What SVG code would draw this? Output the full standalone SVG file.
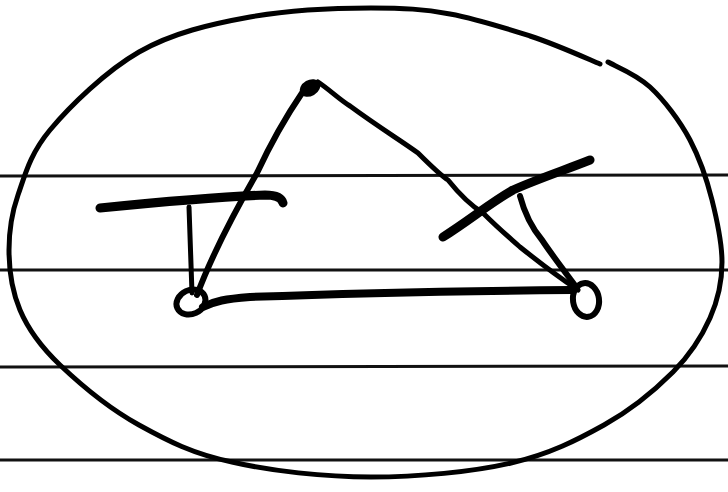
<svg xmlns="http://www.w3.org/2000/svg" width="728" height="492" viewBox="0 0 728 492">
<style>
.rule{stroke:#111;stroke-width:3;fill:none}
.ink{stroke:#000;fill:none;stroke-linecap:round;stroke-linejoin:round}
</style>
<rect width="728" height="492" fill="#fff"/>
<g id="rules">
<path class="rule" d="M0,176 L728,175"/>
<path class="rule" d="M0,270 L728,270"/>
<path class="rule" d="M0,367 L728,366"/>
<path class="rule" d="M0,460 L728,460"/>
</g>
<g id="ellipse">
<path class="ink" stroke-width="5" d="M608,62 C615,66 636,74 650,87 C664,100 680,121 690,140 C700,159 707,180 712,200 C717,220 722,242 722,262 C722,282 718,300 710,318 C702,336 691,354 673,372 C655,390 631,410 604,425 C577,440 550,454 511,463 C472,472 418,477 371,477 C324,477 271,471 232,462 C193,454 168,441 139,425 C110,409 80,384 60,365 C40,346 28,329 20,310 C12,291 9,269 9,250 C9,231 11,215 18,195 C25,175 30,154 50,130 C70,106 106,71 139,52 C172,33 211,24 250,17 C289,10 338,8 371,8 C404,8 423,9 450,14 C477,19 505,28 530,36 C555,44 588,59 600,64"/>
</g>
<g id="triangle">
<path class="ink" stroke-width="6" d="M197,295 C210,260 230,220 257,173 C270,145 285,118 302,93"/>
<ellipse cx="310" cy="88" rx="11" ry="8" transform="rotate(-30 310 88)" fill="#000"/>
<path class="ink" stroke-width="5" d="M318,82 C330,90 340,100 350,106 C380,128 400,140 418,153 C430,165 440,175 448,180 C460,195 470,205 483,213 C500,230 510,238 520,247 C540,263 560,278 578,290"/>
<path class="ink" stroke-width="8" d="M203,307 C215,301 225,299 250,297 C350,293 450,291 572,290"/>
<ellipse class="ink" stroke-width="6" cx="191" cy="302" rx="15" ry="12" transform="rotate(-25 191 302)"/>
<ellipse class="ink" stroke-width="6" cx="586" cy="300" rx="13" ry="17" transform="rotate(-8 586 300)"/>
</g>
<g id="T">
<path class="ink" stroke-width="9" d="M100,208 C150,203 210,197 265,195 Q281,195 283,203"/>
<path class="ink" stroke-width="5" d="M189,207 C190,240 191,270 192,293"/>
</g>
<g id="X">
<path class="ink" stroke-width="9" d="M443,237 C470,220 490,203 513,190 C540,178 565,170 590,160"/>
<path class="ink" stroke-width="6" d="M520,196 C525,215 532,228 542,240 C552,255 562,268 577,288"/>
</g>
</svg>
